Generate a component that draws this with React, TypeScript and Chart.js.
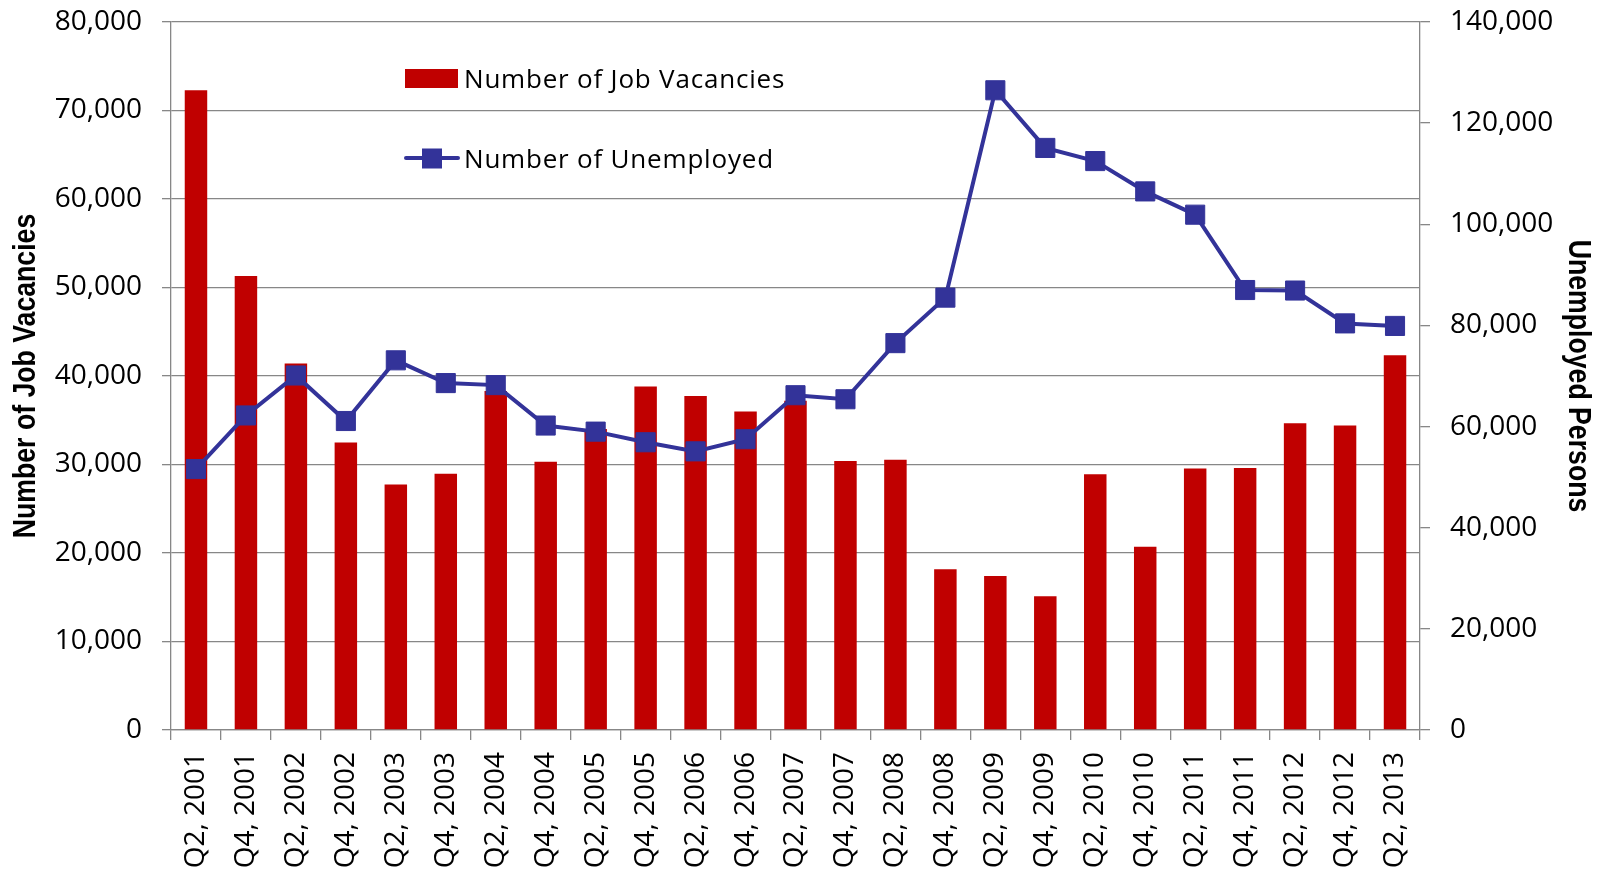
import React, { useEffect, useRef } from 'react';
import { Chart, registerables } from 'chart.js';

Chart.register(...registerables);

const categories = [
  'Q2, 2001', 'Q4, 2001', 'Q2, 2002', 'Q4, 2002', 'Q2, 2003', 'Q4, 2003',
  'Q2, 2004', 'Q4, 2004', 'Q2, 2005', 'Q4, 2005', 'Q2, 2006', 'Q4, 2006',
  'Q2, 2007', 'Q4, 2007', 'Q2, 2008', 'Q4, 2008', 'Q2, 2009', 'Q4, 2009',
  'Q2, 2010', 'Q4, 2010', 'Q2, 2011', 'Q4, 2011', 'Q2, 2012', 'Q4, 2012',
  'Q2, 2013',
];

const jobVacancies = [
  72300, 51300, 41400, 32500, 27750, 28950,
  38300, 30300, 34000, 38800, 37750, 36000,
  37200, 30400, 30550, 18150, 17400, 15100,
  28900, 20700, 29550, 29600, 34650, 34400,
  42350,
];

const unemployed = [
  51600, 62200, 70100, 61100, 73100, 68600,
  68200, 60200, 59000, 56900, 55100, 57500,
  66200, 65400, 76500, 85500, 126500, 115100,
  112500, 106500, 101900, 87000, 86900, 80400,
  79900,
];

const leftTicks = { min: 0, max: 80000, step: 10000 };
const rightTicks = { min: 0, max: 140000, step: 20000 };

const seriesNames = ['Number of Job Vacancies', 'Number of Unemployed'];
const axisTitles = ['Number of Job Vacancies', 'Unemployed Persons'];

const RED = '#C00000';
const BLUE = '#333399';
const GRID = '#878787';
const TICK_FONT = { family: '"Open Sans", sans-serif', size: 28 };

const legendPlugin = {
  id: 'customLegend',
  afterDraw(chart: any) {
    const ctx = chart.ctx as CanvasRenderingContext2D;
    const area = chart.chartArea;
    ctx.save();
    // bar entry
    ctx.fillStyle = RED;
    ctx.fillRect(405, 69, 53, 19);
    // line entry
    ctx.strokeStyle = BLUE;
    ctx.lineWidth = 4;
    ctx.lineCap = 'round';
    ctx.beginPath();
    ctx.moveTo(406, 158);
    ctx.lineTo(458, 158);
    ctx.stroke();
    ctx.fillStyle = BLUE;
    ctx.fillRect(422, 148.5, 20, 20);
    // text
    ctx.fillStyle = '#000';
    ctx.font = '26px "Open Sans", sans-serif';
    (ctx as any).letterSpacing = '0.8px';
    ctx.textAlign = 'left';
    ctx.textBaseline = 'alphabetic';
    ctx.fillText(seriesNames[0], 464, 87.5);
    ctx.fillText(seriesNames[1], 464, 167.5);
    ctx.restore();

    // axis titles (condensed bold)
    const midY = (area.top + area.bottom) / 2;
    ctx.save();
    ctx.fillStyle = '#000';
    ctx.font = 'bold 31px "Liberation Sans", Arial, sans-serif';
    ctx.textAlign = 'center';
    ctx.textBaseline = 'middle';
    ctx.translate(26, midY);
    ctx.rotate(-Math.PI / 2);
    ctx.scale(0.86, 1);
    ctx.fillText(axisTitles[0], 0, 0);
    ctx.restore();

    ctx.save();
    ctx.fillStyle = '#000';
    ctx.font = 'bold 31px "Liberation Sans", Arial, sans-serif';
    ctx.textAlign = 'center';
    ctx.textBaseline = 'middle';
    ctx.translate(1578, midY);
    ctx.rotate(Math.PI / 2);
    ctx.scale(0.86, 1);
    ctx.fillText(axisTitles[1], 0, 0);
    ctx.restore();
  },
};

export default function App() {
  const canvasRef = useRef<HTMLCanvasElement | null>(null);

  useEffect(() => {
    const canvas = canvasRef.current;
    if (!canvas) return;
    const fmt = (v: any) => Number(v).toLocaleString('en-US');
    const chart = new Chart(canvas, {
      type: 'bar',
      data: {
        labels: categories,
        datasets: [
          {
            type: 'line',
            label: seriesNames[1],
            data: unemployed,
            yAxisID: 'y1',
            borderColor: BLUE,
            backgroundColor: BLUE,
            borderWidth: 4,
            pointStyle: 'rect',
            pointRadius: 13.5,
            pointBorderWidth: 1,
            pointBackgroundColor: BLUE,
            pointBorderColor: BLUE,
            tension: 0,
            order: 0,
          } as any,
          {
            type: 'bar',
            label: seriesNames[0],
            data: jobVacancies,
            yAxisID: 'y',
            backgroundColor: RED,
            borderWidth: 0,
            barPercentage: 0.45,
            categoryPercentage: 1,
            order: 1,
          },
        ],
      },
      options: {
        responsive: false,
        animation: false,
        events: [],
        layout: { padding: { top: 22, left: 0, right: 0, bottom: 0 } },
        plugins: {
          legend: { display: false },
          tooltip: { enabled: false },
          title: { display: false },
        },
        scales: {
          x: {
            offset: true,
            grid: {
              offset: true,
              drawOnChartArea: false,
              drawTicks: true,
              tickLength: 10,
              color: GRID,
              lineWidth: 1.3,
            },
            border: { display: true, color: GRID, width: 1.3 },
            ticks: {
              autoSkip: false,
              minRotation: 90,
              maxRotation: 90,
              padding: 12,
              color: '#000',
              font: TICK_FONT,
            },
            afterFit: (s: any) => { s.height = 139; s.paddingLeft = 0; s.paddingRight = 0; },
          },
          y: {
            position: 'left',
            min: leftTicks.min,
            max: leftTicks.max,
            ticks: {
              stepSize: leftTicks.step,
              padding: 20,
              color: '#000',
              font: TICK_FONT,
              callback: fmt,
            },
            grid: {
              color: GRID,
              lineWidth: 1.3,
              tickLength: 9,
              drawTicks: true,
            },
            border: { display: true, color: GRID, width: 1.3 },
            afterFit: (s: any) => { s.width = 171; s.paddingTop = 0; s.paddingBottom = 0; },
          },
          y1: {
            position: 'right',
            min: rightTicks.min,
            max: rightTicks.max,
            ticks: {
              stepSize: rightTicks.step,
              padding: 20,
              color: '#000',
              font: TICK_FONT,
              callback: fmt,
            },
            grid: {
              drawOnChartArea: false,
              drawTicks: true,
              tickLength: 10,
              color: GRID,
              lineWidth: 1.3,
            },
            border: { display: true, color: GRID, width: 1.3 },
            afterFit: (s: any) => { s.width = 179; s.paddingTop = 0; s.paddingBottom = 0; },
          },
        },
      },
      plugins: [legendPlugin],
    });
    return () => chart.destroy();
  }, []);

  return (
    <div style={{ position: 'fixed', left: 0, top: 0, width: 1599, height: 869, background: '#fff' }}>
      <canvas ref={canvasRef} width={1599} height={869} style={{ display: 'block', width: 1599, height: 869 }} />
    </div>
  );
}
